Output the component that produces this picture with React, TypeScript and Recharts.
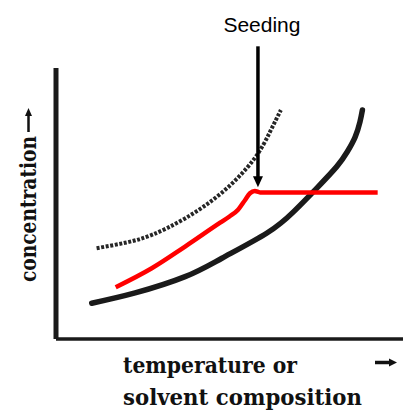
import { ComposedChart, Line, XAxis, YAxis, ReferenceLine } from 'recharts'

// x / y in arbitrary units (0-100)
const solubilityX = [10.3, 22.8, 37.2, 47.8, 60.8, 68.5, 75.1, 80.9, 83.9, 86.2, 87.6, 88.3]
const solubilityY = [13.2, 17.0, 23.0, 29.8, 39.1, 47.0, 55.6, 63.6, 69.0, 74.5, 80.1, 84.5]

const supersolubilityX = [11.7, 19.9, 27.6, 37.2, 47.8, 56.9, 61.7, 64.8]
const supersolubilityY = [33.5, 35.5, 38.4, 44.5, 54.0, 66.1, 76.5, 84.5]

const pathX = [17.2, 27.6, 37.2, 47.3, 50.0, 52.4, 54.5, 55.9, 57.3, 58.8, 92.7]
const pathY = [19.1, 26.1, 34.1, 42.9, 45.2, 47.6, 51.3, 53.8, 54.6, 54.1, 54.1]

const seedingX = 58.2
const seedingTop = 108
const seedingTip = 56
const seedingLabel = 'Seeding'

const xTitle = ['temperature or', 'solvent composition']
const yTitle = 'concentration'

const toPoints = (xs: number[], ys: number[]) => xs.map((x, i) => ({ x, y: ys[i] }))

const solubility = toPoints(solubilityX, solubilityY)
const supersolubility = toPoints(supersolubilityX, supersolubilityY)
const processPath = toPoints(pathX, pathY)

function SeedingArrow(props: any) {
  const { x1, y1, x2, y2 } = props
  const top = Math.min(y1, y2)
  const tip = Math.max(y1, y2)
  return (
    <g>
      <text x={x1 + 4} y={top - 14} textAnchor="middle" fontFamily="'Liberation Sans', Arial, sans-serif"
        fontSize={21} fill="#000">{seedingLabel}</text>
      <line x1={x1} y1={top} x2={x2} y2={tip - 9} stroke="#000" strokeWidth={3.5} />
      <polygon points={`${x1 - 5},${tip - 11} ${x1 + 5},${tip - 11} ${x1},${tip}`} fill="#000" />
    </g>
  )
}

const titleFont = "'DejaVu Serif', 'Liberation Serif', serif"

export default function App() {
  return (
    <div style={{ position: 'absolute', left: 0, top: 0, width: 403, height: 413, background: '#fff' }}>
      <ComposedChart width={403} height={413} margin={{ top: 68, right: 0, bottom: 74, left: 56 }}>
        <XAxis type="number" dataKey="x" domain={[0, 100]} hide allowDataOverflow />
        <YAxis type="number" dataKey="y" domain={[0, 100]} hide allowDataOverflow />
        <ReferenceLine x={0} stroke="#1a1a1a" strokeWidth={5} ifOverflow="visible" />
        <ReferenceLine y={0} stroke="#1a1a1a" strokeWidth={3.5} ifOverflow="visible" />
        <Line data={solubility} dataKey="y" type="natural" stroke="#1a1a1a" strokeWidth={5.5}
          strokeLinecap="round" dot={false} isAnimationActive={false} />
        <Line data={supersolubility} dataKey="y" type="natural" stroke="#262626" strokeWidth={4}
          strokeDasharray="3 1.6" dot={false} isAnimationActive={false} />
        <Line data={processPath} dataKey="y" type="monotone" stroke="#ff0000" strokeWidth={4.5}
          dot={false} isAnimationActive={false} />
        <ReferenceLine
          segment={[{ x: seedingX, y: seedingTop }, { x: seedingX, y: seedingTip }]}
          ifOverflow="visible"
          shape={SeedingArrow}
        />
      </ComposedChart>
      <svg width={403} height={413} style={{ position: 'absolute', left: 0, top: 0, pointerEvents: 'none' }}>
        <g fontFamily={titleFont} fontWeight="bold" fontSize={23} fill="#111">
          <text x={123} y={373} textLength={174} lengthAdjust="spacingAndGlyphs">{xTitle[0]}</text>
          <text x={123} y={405} textLength={239} lengthAdjust="spacingAndGlyphs">{xTitle[1]}</text>
          <text transform="translate(36,282) rotate(-90)" x={0} y={0} textLength={146}
            lengthAdjust="spacingAndGlyphs">{yTitle}</text>
        </g>
        <line x1={375} y1={362.5} x2={391} y2={362.5} stroke="#111" strokeWidth={3.5} />
        <polygon points="389,358.5 397,362.5 389,366.5" fill="#111" />
        <line x1={28.5} y1={132} x2={28.5} y2={115} stroke="#111" strokeWidth={2.5} />
        <polygon points="25,116 32,116 28.5,108" fill="#111" />
      </svg>
    </div>
  )
}
